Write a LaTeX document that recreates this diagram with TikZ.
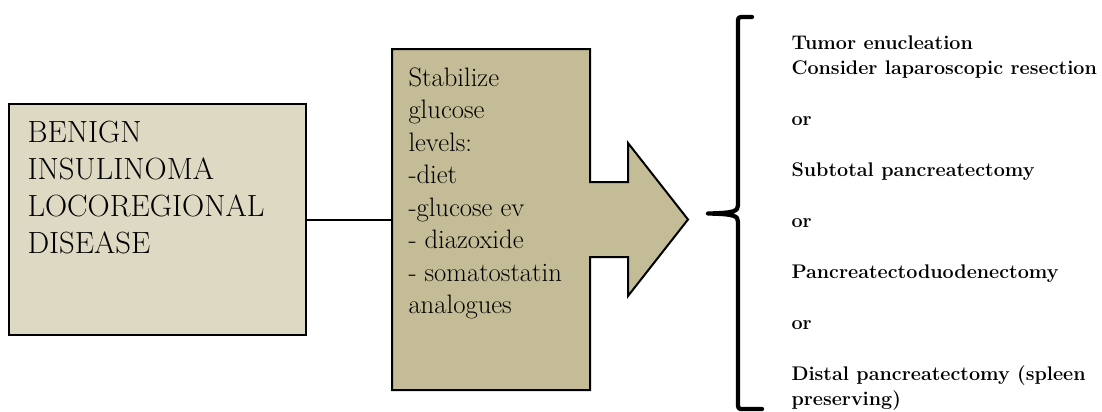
\documentclass[tikz,border=0pt]{standalone}
\usepackage{fontspec}

\definecolor{paleKhaki}{HTML}{DDD9C3}
\definecolor{darkKhaki}{HTML}{C4BC96}

\tikzset{every picture/.style={line width=0.75pt}}
\tikzset{
  outline/.style={draw=black, line width=1.5, outer sep=0pt},
  plaintext/.style={anchor=north west, inner sep=0.75pt, align=left},
}

\begin{document}
\begin{tikzpicture}[x=0.75pt,y=0.75pt,yscale=-1,xscale=1]
\useasboundingbox (0,0) rectangle (1102,411);

%Shape: Rectangle [id:benign]
\node [outline, fill=paleKhaki, anchor=north west, inner sep=0pt, minimum width=222.75pt, minimum height=173.25pt] (benign) at (9,104) {};
%Shape: Right Arrow Callout [id:callout]
\draw [outline, fill=darkKhaki] (392,49) -- (590,49) -- (590,182) -- (628,182) -- (628,143) -- (688,219.5) -- (628,296) -- (628,257) -- (590,257) -- (590,390) -- (392,390) -- cycle ;
\coordinate (callout) at (392,219.5);
%Straight Lines [id:link]
\draw [line width=1.5]   (benign.east) -- (benign.east -| callout) ;
%Shape: Brace [id:brace]
\draw [line width=3.2, line cap=round, line join=round]   (752,17) -- (741,17) .. controls (739,17) and (738,18) .. (738,20) -- (738,205) .. controls (738,211) and (735,213) .. (708,213.5) .. controls (735,214) and (738,216) .. (738,222) -- (738,406) .. controls (738,408) and (739,409) .. (741,409) -- (762,409) ;

% Text Node
\draw (26,120) node [plaintext, font=\fontsize{23}{27.75}\selectfont] (benigntext) {BENIGN\\INSULINOMA\\LOCOREGIONAL\\DISEASE};
% Text Node
\draw (407,66) node [plaintext, font=\fontsize{20}{24.4}\selectfont] (stabilize) {Stabilize\\glucose\\levels:\\-diet\\-glucose ev\\- diazoxide\\- somatostatin\\analogues};
% Text Node
\draw (790,34) node [plaintext, font=\bfseries\fontsize{14.8}{19.1}\selectfont] (surgery) {Tumor enucleation\\Consider laparoscopic resection\\[19.1pt] or\\[19.1pt] Subtotal pancreatectomy\\[19.1pt] or\\[19.1pt] Pancreatectoduodenectomy\\[19.1pt] or\\[19.1pt] Distal pancreatectomy (spleen\\preserving)};

\end{tikzpicture}
\end{document}
